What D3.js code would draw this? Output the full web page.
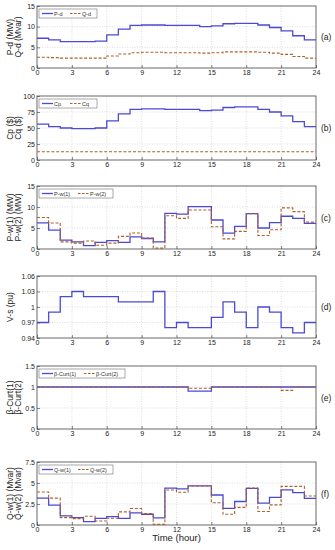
<!DOCTYPE html>
<html><head><meta charset="utf-8">
<script src="https://cdn.jsdelivr.net/npm/d3@7"></script>
<style>body{margin:0;background:#fff}svg{display:block;font-family:"Liberation Sans",Arial,sans-serif}</style>
</head><body><svg id="c" width="335" height="550"></svg>
<script>
const hours = d3.range(0, 25);
const xTicks = [0,3,6,9,12,15,18,21,24];
const Pd = [7.2,6.8,6.4,6.4,6.4,6.5,8.0,9.4,10.3,10.4,10.4,10.3,10.3,10.3,10.0,10.2,10.7,10.8,10.8,10.4,9.8,9.0,7.8,6.8];
const Qd = [2.6,2.5,2.4,2.4,2.4,2.4,2.9,3.4,3.7,3.8,3.8,3.7,3.7,3.7,3.6,3.7,3.9,3.9,3.9,3.8,3.6,3.3,2.8,2.4];
const Cp = [56,52,50,49,49,50,61,72,79,80,80,79,79,79,77,78,82,83,83,79,75,69,60,52];
const Cq = [13,13,13,13,13,13,13,13,13,13,13,13,13,13,13,13,13,13,13,13,13,13,13,13];
const Pw1 = [6.2,4.5,2.1,1.7,0.8,1.6,2.0,1.6,2.9,2.5,1.7,8.5,8.3,10.1,10.1,6.9,3.8,5.4,8.4,5.0,6.3,7.8,7.3,6.1];
const Pw2 = [7.5,6.2,1.7,1.4,1.9,0.9,1.4,3.0,3.8,2.6,0.2,7.9,7.3,9.3,9.3,5.3,2.4,4.2,8.4,3.2,4.6,9.8,8.9,6.4];
const Vs = [0.97,0.99,1.02,1.03,1.02,1.02,1.02,1.01,1.01,1.01,1.03,0.96,0.97,0.96,0.96,0.98,1.01,0.99,0.96,1.00,0.99,0.96,0.95,0.97];
const Curt1 = [1,1,1,1,1,1,1,1,1,1,1,1,1,0.9,0.9,1,1,1,1,1,1,1,1,1];
const Curt2 = [1,1,1,1,1,1,1,1,1,1,1,1,1,0.97,0.97,1,1,1,1,1,1,0.92,1,1];
const Qw1 = [3.2,2.37,1.08,0.88,0.4,0.8,1.0,0.8,1.45,1.28,0.84,4.4,4.3,4.65,4.65,3.57,1.97,2.8,4.37,2.6,3.3,4.17,3.85,3.17];
const Qw2 = [3.93,3.2,0.88,0.76,1.04,0.48,0.8,1.56,1.97,1.36,0.08,4.17,3.9,4.65,4.65,2.65,1.28,2.1,4.4,1.6,2.4,4.6,4.6,3.45];

const blue = "#4a4ad4", brown = "#b0602c";
const svg = d3.select("#c");
const L = 37, R = 316;

const panels = [
  {top:6, bot:68, dom:[0,15], ticks:[0,5,10,15], s1:Pd, s2:Qd, n1:"P-d", n2:"Q-d", lab:["P-d (MW)","Q-d (Mvar)"], tag:"(a)", lw:58},
  {top:96, bot:160, dom:[0,100], ticks:[0,25,50,75,100], s1:Cp, s2:Cq, n1:"Cp", n2:"Cq", lab:["Cp ($)","Cq ($)"], tag:"(b)", lw:58},
  {top:186, bot:249, dom:[0,15], ticks:[0,5,10,15], s1:Pw1, s2:Pw2, n1:"P-w(1)", n2:"P-w(2)", lab:["P-w(1) (MW)","P-w(2) (MW)"], tag:"(c)", lw:74},
  {top:276, bot:338, dom:[0.94,1.06], ticks:[0.94,0.97,1,1.03,1.06], s1:Vs, s2:null, lab:["V-s (pu)"], tag:"(d)"},
  {top:366, bot:429, dom:[0,1.5], ticks:[0,0.5,1,1.5], s1:Curt1, s2:Curt2, n1:"β-Curt(1)", n2:"β-Curt(2)", lab:["β-Curt(1)","β-Curt(2)"], tag:"(e)", lw:86},
  {top:462, bot:525, dom:[0,7.5], ticks:[0,2.5,5,7.5], s1:Qw1, s2:Qw2, n1:"Q-w(1)", n2:"Q-w(2)", lab:["Q-w(1) (Mvar)","Q-w(2) (Mvar)"], tag:"(f)", lw:74, xlabel:"Time (hour)"}
];

const x = d3.scaleLinear().domain([0,24]).range([L,R]);

panels.forEach(p => {
  const y = d3.scaleLinear().domain(p.dom).range([p.bot,p.top]);
  const g = svg.append("g");
  g.append("g").selectAll("line").data(xTicks.slice(1,-1)).join("line")
    .attr("x1",d=>x(d)).attr("x2",d=>x(d)).attr("y1",p.top).attr("y2",p.bot)
    .attr("stroke","#c8c8c8").attr("stroke-width",0.6).attr("stroke-dasharray","1,1.5");
  g.append("g").selectAll("line").data(p.ticks.slice(1,-1)).join("line")
    .attr("x1",L).attr("x2",R).attr("y1",d=>y(d)).attr("y2",d=>y(d))
    .attr("stroke","#c8c8c8").attr("stroke-width",0.6).attr("stroke-dasharray","1,1.5");
  const ax = g.append("g").attr("transform",`translate(0,${p.bot})`)
    .call(d3.axisBottom(x).tickValues(xTicks).tickSize(-3).tickPadding(2).tickFormat(d3.format("d")));
  const ay = g.append("g").attr("transform",`translate(${L},0)`)
    .call(d3.axisLeft(y).tickValues(p.ticks).tickSize(-3).tickPadding(2).tickFormat(d=>String(+d.toFixed(2))));
  [ax,ay].forEach(a=>{a.select(".domain").remove(); a.selectAll("text").attr("font-size",7).attr("fill","#222").attr("font-family","Liberation Sans, Arial, sans-serif"); a.selectAll("line").attr("stroke","#333").attr("stroke-width",0.6);});
  ax.selectAll("text").attr("dy","0.71em");
  g.append("rect").attr("x",L).attr("y",p.top).attr("width",R-L).attr("height",p.bot-p.top)
    .attr("fill","none").attr("stroke","#444").attr("stroke-width",0.8);
  const line = d3.line().x(d=>x(d[0])).y(d=>y(d[1])).curve(d3.curveStepAfter);
  const mk = s => hours.map(h => [h, s[Math.min(h,23)]]);
  g.append("path").attr("d",line(mk(p.s1))).attr("fill","none").attr("stroke",blue).attr("stroke-width",1.3);
  if (p.s2) g.append("path").attr("d",line(mk(p.s2))).attr("fill","none").attr("stroke",brown).attr("stroke-width",1.1).attr("stroke-dasharray","3,1.8");
  if (p.n1) {
    const lg = g.append("g").attr("transform",`translate(${L+2},${p.top+3})`);
    lg.append("rect").attr("width",p.lw).attr("height",9).attr("fill","#fff").attr("stroke","#555").attr("stroke-width",0.5);
    const half = p.lw/2;
    lg.append("line").attr("x1",3).attr("x2",14).attr("y1",4.5).attr("y2",4.5).attr("stroke",blue).attr("stroke-width",1.3);
    lg.append("text").attr("x",15).attr("y",6.8).attr("font-size",5.5).attr("fill","#333").text(p.n1);
    lg.append("line").attr("x1",half+2).attr("x2",half+13).attr("y1",4.5).attr("y2",4.5).attr("stroke",brown).attr("stroke-width",1.1).attr("stroke-dasharray","2.5,1.5");
    lg.append("text").attr("x",half+14).attr("y",6.8).attr("font-size",5.5).attr("fill","#333").text(p.n2);
  }
  const cy = (p.top+p.bot)/2;
  const xs = p.lab.length === 2 ? [10,18] : [10];
  p.lab.forEach((t,i)=>{
    g.append("text").attr("transform",`translate(${xs[i]+3},${cy}) rotate(-90)`)
      .attr("text-anchor","middle").attr("font-size",8.5).attr("fill","#222").text(t);
  });
  g.append("text").attr("x",321).attr("y",cy+3).attr("font-size",8.5).attr("fill","#222").text(p.tag);
  if (p.xlabel) g.append("text").attr("x",(L+R)/2).attr("y",p.bot+16).attr("text-anchor","middle").attr("font-size",9.5).attr("fill","#222").text(p.xlabel);
});
</script></body></html>
